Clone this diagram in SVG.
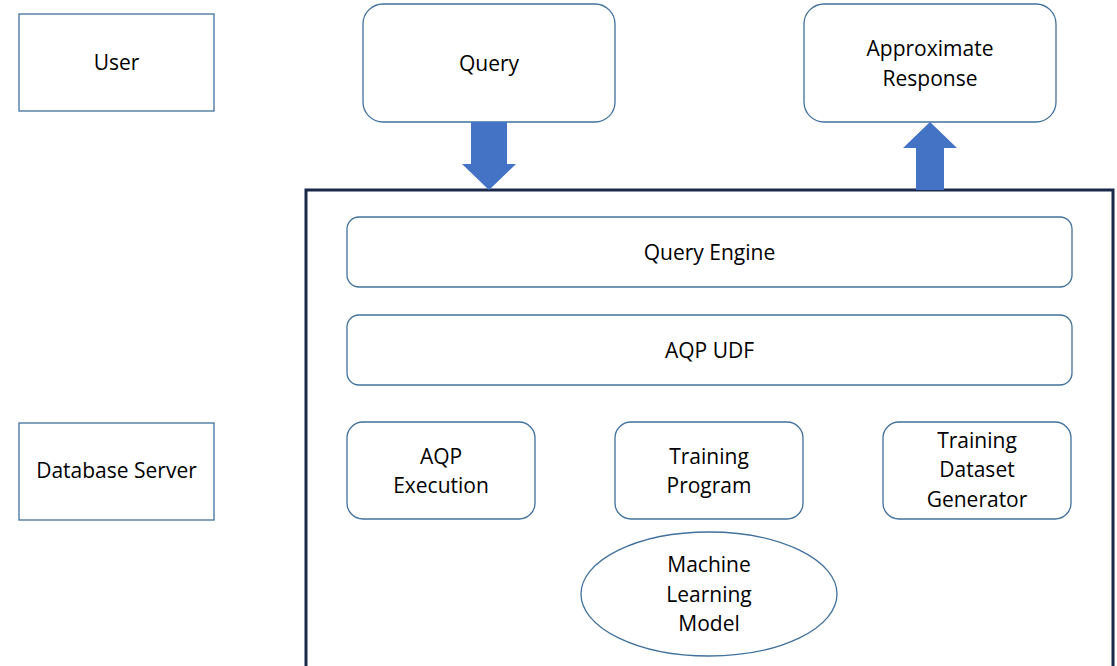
<svg xmlns="http://www.w3.org/2000/svg" width="1117" height="666" viewBox="0 0 1117 666">
<style>
.box{fill:#fff;stroke:#41719C;stroke-width:1.3}
.arrow{fill:#4472C4}
.container{fill:#fff;stroke:#1B2A4A;stroke-width:3}
text{font-family:"Open Sans","Liberation Sans",Arial,sans-serif;font-size:21px;fill:#000;text-anchor:middle;dominant-baseline:central}
</style>
<rect width="1117" height="666" fill="#fff"/>
<g id="container"><rect class="container" x="306" y="190" width="807" height="490"/></g>
<g id="user"><rect class="box" x="19" y="14" width="195" height="97"/><text x="116.5" y="62">User</text></g>
<g id="database-server"><rect class="box" x="19" y="423" width="195" height="97"/><text x="116.5" y="470">Database Server</text></g>
<g id="query"><rect class="box" x="363" y="4" width="252" height="118" rx="20"/><text x="489" y="63">Query</text></g>
<g id="approx-response"><rect class="box" x="804" y="4" width="252" height="118" rx="20"/><text x="930" y="48">Approximate</text><text x="930" y="78">Response</text></g>
<g id="query-engine"><rect class="box" x="347" y="217" width="725" height="70" rx="12"/><text x="709.5" y="252">Query Engine</text></g>
<g id="aqp-udf"><rect class="box" x="347" y="315" width="725" height="70" rx="12"/><text x="709.5" y="350">AQP UDF</text></g>
<g id="aqp-execution"><rect class="box" x="347" y="422" width="188" height="97" rx="16"/><text x="441" y="456">AQP</text><text x="441" y="485">Execution</text></g>
<g id="training-program"><rect class="box" x="615" y="422" width="188" height="97" rx="16"/><text x="709" y="456">Training</text><text x="709" y="485">Program</text></g>
<g id="training-dataset-generator"><rect class="box" x="883" y="422" width="188" height="97" rx="16"/><text x="977" y="440">Training</text><text x="977" y="469">Dataset</text><text x="977" y="499">Generator</text></g>
<g id="ml-model"><ellipse class="box" cx="709" cy="594" rx="128" ry="62"/><text x="709" y="564">Machine</text><text x="709" y="594">Learning</text><text x="709" y="623">Model</text></g>
<g id="connectors">
<polygon class="arrow" points="471,122 507,122 507,164 516,164 489,190 462,164 471,164"/>
<polygon class="arrow" points="930,122 957,148 944,148 944,190 916,190 916,148 903,148"/>
</g>
</svg>
